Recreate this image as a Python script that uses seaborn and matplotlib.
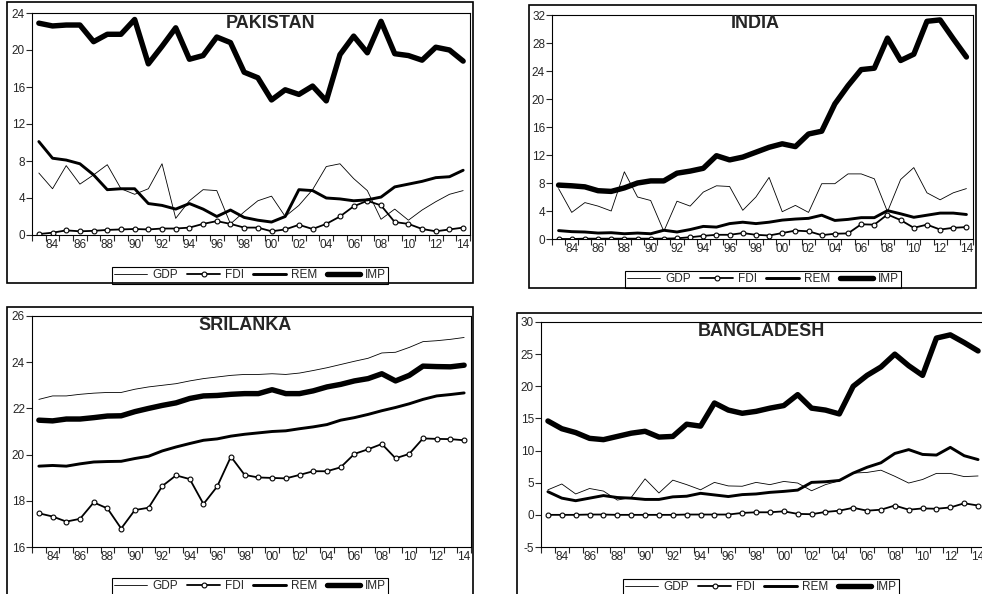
import numpy as np
import pandas as pd
import matplotlib
matplotlib.use('Agg')
import matplotlib.pyplot as plt
import seaborn as sns
from matplotlib.patches import Rectangle

# --- data ---
years = list(range(1983, 2015))
series_names = ['GDP', 'FDI', 'REM', 'IMP']

pak_gdp = [6.7, 5.0, 7.5, 5.5, 6.5, 7.6, 5.0, 4.4, 5.0, 7.7, 1.8, 3.7, 4.9, 4.8, 1.2, 2.5,
           3.7, 4.2, 2.0, 3.2, 4.9, 7.4, 7.7, 6.1, 4.8, 1.7, 2.8, 1.6, 2.7, 3.6, 4.4, 4.8]
pak_fdi = [0.1, 0.25, 0.5, 0.4, 0.45, 0.55, 0.6, 0.65, 0.6, 0.7, 0.7, 0.8, 1.2, 1.5, 1.2, 0.8,
           0.8, 0.4, 0.6, 1.1, 0.65, 1.2, 2.0, 3.1, 3.7, 3.2, 1.4, 1.2, 0.65, 0.4, 0.6, 0.8]
pak_rem = [10.1, 8.3, 8.1, 7.7, 6.5, 4.9, 5.0, 5.0, 3.4, 3.2, 2.8, 3.4, 2.8, 2.0, 2.7, 1.9,
           1.6, 1.4, 2.0, 4.9, 4.8, 4.0, 3.9, 3.7, 3.8, 4.1, 5.2, 5.5, 5.8, 6.2, 6.3, 7.0]
pak_imp = [22.9, 22.6, 22.7, 22.7, 20.9, 21.7, 21.7, 23.3, 18.5, 20.4, 22.4, 19.0, 19.4, 21.4, 20.8, 17.6,
           17.0, 14.6, 15.7, 15.2, 16.1, 14.5, 19.5, 21.5, 19.7, 23.1, 19.6, 19.4, 18.9, 20.3, 20.0, 18.8]

ind_gdp = [7.2, 3.8, 5.2, 4.7, 4.0, 9.6, 6.0, 5.5, 1.1, 5.4, 4.7, 6.7, 7.6, 7.5, 4.1, 6.0,
           8.8, 3.9, 4.8, 3.8, 7.9, 7.9, 9.3, 9.3, 8.6, 3.9, 8.5, 10.2, 6.6, 5.6, 6.6, 7.2]
ind_fdi = [0.0, 0.0, 0.05, 0.05, 0.05, 0.05, 0.05, 0.05, 0.05, 0.1, 0.25, 0.45, 0.6, 0.6, 0.85, 0.6,
           0.5, 0.85, 1.2, 1.1, 0.55, 0.75, 0.8, 2.1, 2.05, 3.5, 2.7, 1.6, 2.05, 1.35, 1.6, 1.7]
ind_rem = [1.2, 1.05, 1.0, 0.85, 0.9, 0.75, 0.85, 0.75, 1.25, 1.0, 1.35, 1.8, 1.7, 2.2, 2.4, 2.2,
           2.4, 2.7, 2.85, 2.95, 3.4, 2.65, 2.8, 3.05, 3.05, 4.05, 3.6, 3.1, 3.4, 3.7, 3.7, 3.5]
ind_imp = [7.7, 7.6, 7.45, 6.9, 6.8, 7.3, 8.0, 8.3, 8.3, 9.4, 9.7, 10.1, 11.9, 11.3, 11.7, 12.4,
           13.1, 13.6, 13.2, 15.0, 15.4, 19.3, 21.9, 24.2, 24.4, 28.7, 25.5, 26.4, 31.1, 31.3, 28.6, 26.0]

lka_gdp = [22.39, 22.54, 22.54, 22.61, 22.66, 22.69, 22.69, 22.83, 22.93, 23.0, 23.07, 23.19, 23.29, 23.36, 23.43, 23.47,
           23.47, 23.5, 23.47, 23.53, 23.64, 23.76, 23.9, 24.04, 24.17, 24.4, 24.43, 24.64, 24.89, 24.93, 24.99, 25.07]
lka_fdi = [17.46, 17.32, 17.1, 17.22, 17.93, 17.67, 16.8, 17.6, 17.7, 18.64, 19.1, 18.94, 17.86, 18.62, 19.91, 19.12,
           19.01, 18.99, 18.97, 19.12, 19.28, 19.28, 19.45, 20.03, 20.23, 20.46, 19.84, 20.03, 20.7, 20.68, 20.67, 20.62]
lka_rem = [19.5, 19.53, 19.5, 19.6, 19.68, 19.7, 19.71, 19.83, 19.93, 20.16, 20.33, 20.48, 20.62, 20.68, 20.8, 20.88,
           20.94, 21.0, 21.03, 21.12, 21.2, 21.3, 21.49, 21.6, 21.74, 21.9, 22.04, 22.2, 22.39, 22.54, 22.6, 22.67]
lka_imp = [21.49, 21.46, 21.54, 21.54, 21.6, 21.67, 21.68, 21.86, 22.0, 22.13, 22.24, 22.43, 22.54, 22.56, 22.61, 22.64,
           22.64, 22.81, 22.64, 22.64, 22.76, 22.93, 23.04, 23.19, 23.29, 23.5, 23.19, 23.43, 23.83, 23.81, 23.8, 23.87]

bgd_gdp = [3.9, 4.8, 3.25, 4.1, 3.7, 2.3, 2.7, 5.6, 3.4, 5.4, 4.7, 3.9, 5.05, 4.5, 4.45, 5.05,
           4.7, 5.2, 4.95, 3.75, 4.7, 5.3, 6.5, 6.6, 6.95, 6.0, 4.95, 5.5, 6.45, 6.45, 5.95, 6.05]
bgd_fdi = [0.0, 0.0, 0.0, 0.05, 0.05, 0.0, 0.0, 0.0, 0.0, 0.0, 0.05, 0.05, 0.05, 0.05, 0.3, 0.4,
           0.4, 0.55, 0.15, 0.1, 0.45, 0.65, 1.1, 0.65, 0.8, 1.45, 0.8, 1.0, 0.95, 1.15, 1.8, 1.45]
bgd_rem = [3.6, 2.6, 2.2, 2.6, 3.0, 2.7, 2.6, 2.4, 2.4, 2.8, 2.9, 3.35, 3.1, 2.85, 3.15, 3.25,
           3.5, 3.65, 3.85, 5.05, 5.15, 5.35, 6.5, 7.4, 8.1, 9.55, 10.15, 9.4, 9.3, 10.5, 9.2, 8.6]
bgd_imp = [14.6, 13.4, 12.8, 11.9, 11.7, 12.2, 12.7, 13.0, 12.1, 12.2, 14.1, 13.8, 17.4, 16.3, 15.8, 16.1,
           16.6, 17.0, 18.7, 16.6, 16.3, 15.7, 20.0, 21.7, 23.0, 25.0, 23.2, 21.7, 27.5, 28.0, 26.8, 25.5]

# --- figure setup ---
W, H = 982, 594
sns.set_style('white')
plt.rcParams['font.family'] = ['Liberation Sans', 'DejaVu Sans']
plt.rcParams['axes.unicode_minus'] = False

fig = plt.figure(figsize=(W / 100, H / 100), dpi=100)

line_styles = {
    'GDP': dict(linewidth=0.6),
    'FDI': dict(linewidth=1.3, marker='o', markersize=3.5, markerfacecolor='white',
                markeredgecolor='black', markeredgewidth=0.8),
    'REM': dict(linewidth=2.1),
    'IMP': dict(linewidth=3.9),
}


def frame_box(l, t, r, b):
    # outer frame around each panel, pixel coords
    fig.add_artist(Rectangle((l / W, 1 - b / H), (r - l) / W, (b - t) / H,
                             transform=fig.transFigure, fill=False,
                             edgecolor='black', linewidth=1.2))


def draw_panel(box, plot, title, title_xy, legend_xy, vals, ylim, yticks):
    frame_box(*box)
    l, t, r, b = plot
    ax = fig.add_axes([l / W, 1 - b / H, (r - l) / W, (b - t) / H])
    df = pd.DataFrame({'year': years, 'GDP': vals[0], 'FDI': vals[1], 'REM': vals[2], 'IMP': vals[3]})
    for s in series_names:
        sns.lineplot(data=df, x='year', y=s, ax=ax, color='black', label=s, **line_styles[s])

    ax.set_xlim(1982.5, 2014.5)
    ax.set_ylim(*ylim)
    ax.set_xticks(list(range(1984, 2015, 2)))
    ax.set_xticklabels([f'{y % 100:02d}' for y in range(1984, 2015, 2)])
    ax.set_xticks(np.arange(1982.5, 2015, 1), minor=True)
    ax.set_yticks(yticks)
    ax.tick_params(axis='x', which='major', length=0, pad=3, labelsize=8.5)
    ax.tick_params(axis='x', which='minor', length=4, width=0.8, direction='out', bottom=True)
    ax.tick_params(axis='y', length=4, width=0.8, direction='out', pad=1, labelsize=8.5, left=True)
    ax.set_xlabel('')
    ax.set_ylabel('')
    for sp in ax.spines.values():
        sp.set_color('black')
        sp.set_linewidth(0.8)

    fig.text(title_xy[0] / W, 1 - title_xy[1] / H, title, ha='center', va='center',
             fontsize=13, fontweight='bold')

    leg = ax.legend(loc='upper center', bbox_to_anchor=(legend_xy[0] / W, 1 - legend_xy[1] / H),
                    bbox_transform=fig.transFigure, ncol=4, frameon=True, fancybox=False,
                    edgecolor='black', framealpha=1, fontsize=8.5, handlelength=2.8,
                    handletextpad=0.4, columnspacing=0.8, borderpad=0.2, borderaxespad=0)
    leg.get_frame().set_linewidth(0.8)
    return ax


draw_panel((7, 2, 473, 283), (32, 13, 470, 235), 'PAKISTAN', (271, 24), (250, 267),
           [pak_gdp, pak_fdi, pak_rem, pak_imp], (0, 24), range(0, 25, 4))
draw_panel((529, 5, 976, 288), (552, 15, 973, 239), 'INDIA', (755, 24), (763, 271),
           [ind_gdp, ind_fdi, ind_rem, ind_imp], (0, 32), range(0, 33, 4))
draw_panel((7, 307, 473, 610), (32, 316, 471, 547), 'SRILANKA', (245, 325), (250, 578),
           [lka_gdp, lka_fdi, lka_rem, lka_imp], (16, 26), range(16, 27, 2))
draw_panel((517, 313, 1000, 610), (541, 322, 985, 547), 'BANGLADESH', (761, 332), (761, 579),
           [bgd_gdp, bgd_fdi, bgd_rem, bgd_imp], (-5, 30), range(-5, 31, 5))

fig.savefig('out.png', dpi=100)
